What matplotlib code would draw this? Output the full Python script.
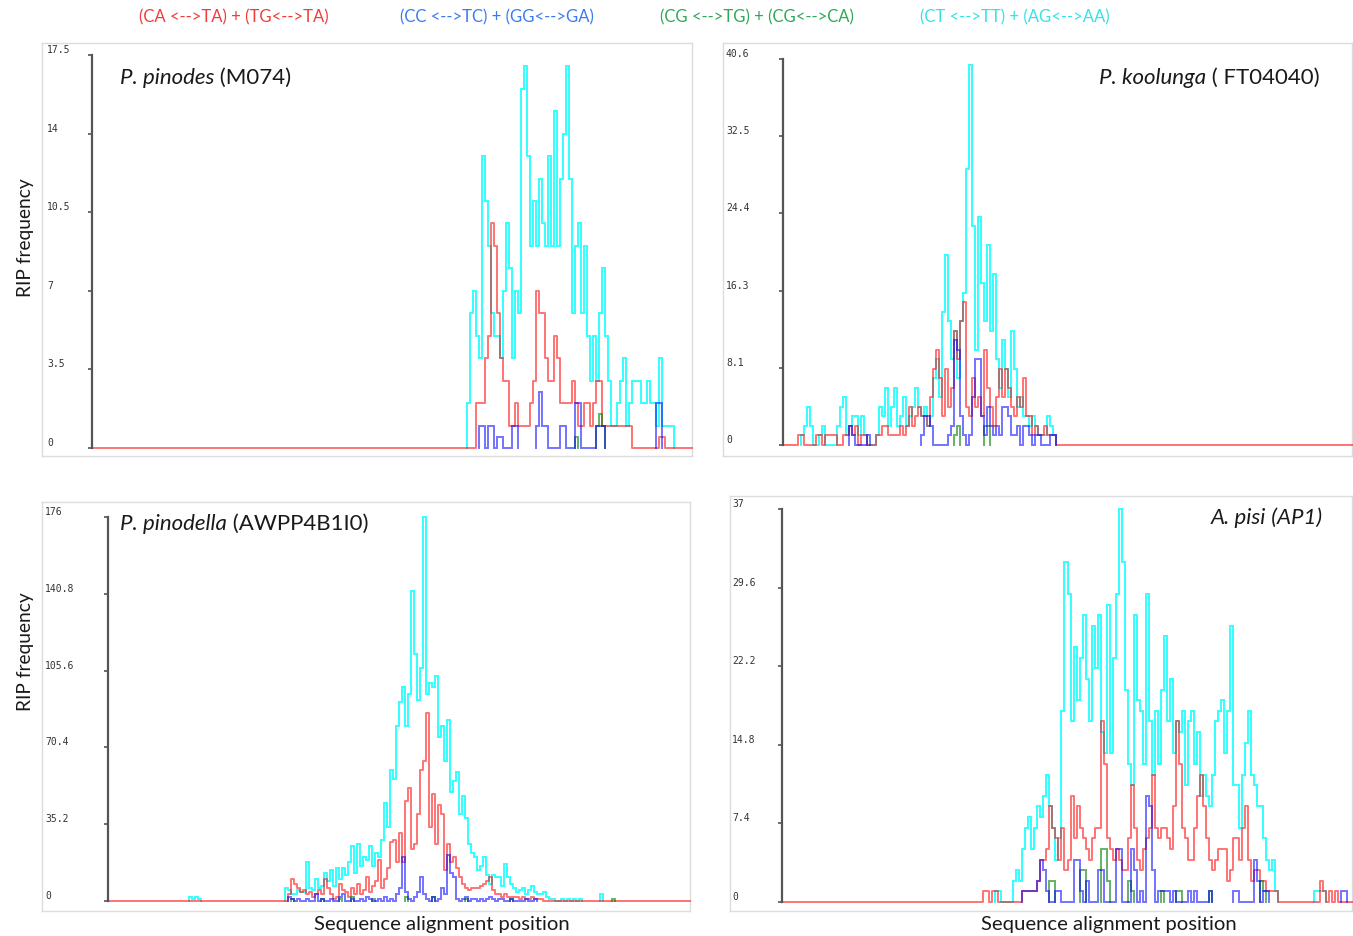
import numpy as np
import matplotlib
matplotlib.use("Agg")
import matplotlib.pyplot as plt
from matplotlib.transforms import blended_transform_factory, ScaledTranslation

W, H = 1353, 937

# --- substitution classes -------------------------------------------------
legend_labels = ["(CA <-->TA) + (TG<-->TA)", "(CC <-->TC) + (GG<-->GA)",
                 "(CG <-->TG) + (CG<-->CA)", "(CT <-->TT) + (AG<-->AA)"]

# --- P. pinodes (M074): windows 125.. of 200 -------------------------------
p1_windows, p1_start = 200, 125
p1_ticks = ["0", "3.5", "7", "10.5", "14", "17.5"]
p1_cyan = [2, 6, 7, 5, 4, 13, 11, 9, 6, 5, 5, 4, 7, 10, 8, 4, 7, 6, 16, 17,
           13, 9, 11, 9, 12, 10, 9, 13, 9, 15, 9, 12, 14, 17, 12, 6, 9, 10, 6, 9,
           5, 3, 5, 3, 6, 8, 5, 3, 1, 1, 2, 3, 4, 1, 2, 3, 3, 3, 2, 2,
           3, 2, 2, 1, 4, 1, 1, 1, 1, 0]
p1_red = [0, 0, 0, 2, 2, 2, 4, 5, 10, 9, 6, 4, 3, 3, 1, 1, 2, 1, 1, 1,
          1, 2, 3, 7, 6, 6, 4, 3, 3, 5, 4, 2, 2, 2, 2, 3, 2, 1, 1, 2,
          2, 1, 2, 3, 3, 1, 1, 1, 1, 1, 1, 1, 1, 1, 1, 0, 0, 0, 0, 0,
          0, 0, 0, 0, 0.5, 0.5, 0, 0, 0, 0]
p1_blue = [0, 0, 0, 0, 1, 1, 0, 1, 1, 0, 0.5, 0.5, 0, 0, 0, 1, 1, 0, 0, 0,
           0, 0, 0, 1, 2.5, 1, 1, 0, 0, 0, 0, 1, 1, 0, 0, 0, 2, 2, 0, 0,
           0, 0, 0, 1, 1, 1, 0, 0, 0, 0, 0, 0, 0, 0, 0, 0, 0, 0, 0, 0,
           0, 0, 0, 2, 2, 0, 0, 0, 0, 0]
p1_green = {36: 0.5, 43: 1, 44: 1.5, 45: 1}

# --- P. koolunga (FT04040): windows 5.. of 190 -----------------------------
p2_windows, p2_start = 190, 5
p2_ticks = ["0", "8.1", "16.3", "24.4", "32.5", "40.6"]
p2_cyan = [0, 1, 2, 4, 2, 0, 0, 1, 2, 0, 0, 0, 0, 2, 4, 5, 1, 2, 3, 3,
           1, 3, 1, 0, 0, 0, 1, 4, 3, 6, 2, 4, 6, 2, 3, 5, 2, 3, 4, 6,
           4, 3, 4, 2, 3, 7, 9, 5, 14, 20, 13, 9, 12, 7, 13, 16, 29, 40, 23, 10,
           24, 17, 13, 21, 12, 18, 9, 6, 11, 8, 5, 12, 8, 4, 5, 3, 3, 2, 3, 2,
           1, 1, 1, 3, 2, 1]
p2_red = [1, 1, 0, 0, 0, 0, 1, 1, 0, 1, 1, 1, 1, 0, 0, 1, 1, 2, 1, 2,
          0, 1, 1, 0, 0, 0, 1, 1, 2, 2, 1, 1, 1, 1, 2, 1, 2, 4, 2, 3,
          4, 3, 3, 2, 5, 8, 10, 7, 3, 8, 4, 6, 12, 9, 13, 15, 4, 3, 7, 4,
          5, 3, 10, 6, 4, 2, 5, 8, 5, 8, 6, 4, 3, 5, 4, 7, 3, 3, 1, 2,
          1, 1, 2, 1, 1, 1]
p2_blue = [0, 0, 0, 0, 0, 0, 0, 0, 0, 0, 0, 0, 0, 0, 0, 0, 0, 2, 1, 0,
           0, 0, 0, 1, 0, 0, 0, 0, 0, 0, 0, 0, 0, 0, 0, 0, 0, 0, 0, 0,
           0, 1, 3, 3, 2, 0, 0, 0, 0, 0, 1, 2, 11, 10, 3, 1, 0, 1, 5, 9,
           9, 3, 1, 4, 2, 1, 2, 1, 4, 4, 3, 1, 1, 2, 0, 2, 2, 1, 0, 1,
           1, 0, 0, 0, 1, 1]
p2_green = {52: 1, 53: 2, 62: 2, 63: 2}

# --- P. pinodella (AWPP4B1I0): windows 59.. of 194 ------------------------
p3_windows, p3_start = 194, 59
p3_ticks = ["0", "35.2", "70.4", "105.6", "140.8", "176"]
p3_cyan = [6, 5, 3, 3, 5, 4, 4, 18, 6, 5, 10, 6, 7, 13, 9, 14, 7, 15, 10, 15,
           12, 18, 25, 13, 26, 16, 20, 19, 25, 16, 22, 20, 28, 45, 34, 60, 56, 80, 91, 98,
           80, 95, 142, 113, 92, 107, 176, 95, 100, 98, 103, 75, 80, 64, 83, 50, 55, 59, 40, 48,
           38, 26, 22, 20, 14, 16, 20, 12, 8, 12, 11, 11, 7, 17, 11, 8, 6, 4, 5, 6,
           3, 5, 7, 4, 3, 3, 4, 2, 1, 1, 0, 0, 1, 0, 1, 0, 1, 0, 1, 0,
           0, 0, 0, 0, 0, 3]
p3_cyan_extra = {-32: 2, -31: 1, -30: 2, -29: 1}
p3_red = [0, 3, 10, 8, 6, 4, 5, 3, 4, 2, 3, 5, 3, 10, 6, 3, 1, 2, 8, 5,
          4, 2, 6, 3, 8, 3, 5, 11, 4, 7, 9, 19, 6, 10, 15, 27, 28, 18, 31, 18,
          46, 52, 24, 26, 40, 60, 64, 86, 34, 49, 26, 44, 40, 14, 26, 18, 20, 15, 11, 8,
          6, 5, 6, 6, 6, 7, 8, 9, 11, 5, 3, 3, 2, 3, 2, 2, 2, 2, 1, 2,
          1, 1, 2, 1, 1, 1, 0]
p3_blue = [0, 2, 1, 0, 1, 0, 0, 1, 0, 0, 3, 0, 1, 0, 0, 1, 0, 0, 2, 3,
           0, 0, 1, 0, 0, 1, 0, 2, 1, 0, 0, 1, 0, 2, 0, 1, 0, 3, 6, 20,
           4, 1, 0, 2, 4, 11, 3, 1, 0, 2, 0, 1, 6, 3, 21, 13, 11, 1, 0, 1,
           2, 0, 1, 1, 0, 1, 0, 1, 2, 1, 0, 1, 1, 0, 0, 1, 0, 0, 0, 0,
           1, 0, 0, 1, 0]
p3_green = {2: 1, 12: 1, 18: 1, 22: 2, 29: 1, 40: 2, 49: 2, 60: 1, 75: 1, 109: 1}

# --- A. pisi (AP1): windows 78.. of 190 ------------------------------------
p4_windows, p4_start = 190, 78
p4_ticks = ["0", "7.4", "14.8", "22.2", "29.6", "37"]
p4_cyan = [3, 2, 5, 7, 8, 5, 7, 9, 8, 10, 12, 9, 7, 4, 6, 18, 32, 29, 17, 24,
           19, 23, 27, 21, 17, 26, 22, 27, 16, 14, 28, 14, 23, 29, 37, 32, 20, 13, 11, 27,
           19, 18, 13, 29, 17, 12, 18, 13, 20, 25, 17, 21, 14, 17, 16, 18, 11, 17, 18, 13,
           16, 10, 12, 10, 9, 12, 17, 18, 19, 14, 18, 26, 11, 11, 7, 12, 15, 18, 12, 11,
           9, 9, 6, 4, 3, 4, 1, 0]
p4_cyan_extra = {-7: 1, -6: 1, -1: 2, 99: 1, 100: 1, 101: 1, 102: 1}
p4_red = [0, 0, 1, 1, 1, 1, 1, 2, 4, 4, 5, 9, 7, 6, 4, 7, 3, 4, 10, 6,
          9, 7, 6, 5, 4, 6, 7, 7, 17, 13, 6, 5, 4, 5, 4, 3, 3, 6, 11, 7,
          4, 3, 5, 6, 7, 12, 7, 6, 7, 7, 6, 5, 9, 17, 13, 7, 6, 4, 4, 7,
          10, 12, 9, 6, 4, 3, 4, 5, 5, 5, 2, 3, 6, 6, 4, 7, 9, 4, 2, 3,
          3, 2, 2, 1, 1, 1, 1, 0]
p4_red_extra = {-11: 1, -10: 1, -8: 1, -7: 1, 101: 2, 102: 1, 104: 1, 106: 1}
p4_blue = [0, 0, 1, 1, 1, 1, 1, 2, 4, 3, 1, 0, 0, 1, 1, 0, 0, 0, 0, 4,
           4, 1, 0, 2, 0, 0, 0, 3, 3, 0, 0, 0, 0, 5, 5, 0, 0, 0, 5, 3,
           0, 1, 0, 10, 9, 3, 0, 1, 1, 1, 1, 0, 1, 0, 0, 0, 0, 1, 0, 1,
           0, 0, 0, 0, 1, 0, 0, 0, 0, 0, 0, 0, 1, 1, 0, 0, 0, 0, 0, 4,
           2, 0, 1, 1, 0]
p4_blue_extra = {108: 1, 109: 1}
p4_green = {11: 2, 12: 2, 21: 3, 22: 3, 28: 5, 29: 5, 30: 2, 37: 2, 38: 1,
            48: 1, 53: 1, 54: 1, 64: 1, 81: 2, 82: 1}

RED, BLUE, GREEN, CYAN = "#ff0000", "#0000ff", "#008000", "#00ffff"
TEXT_COLORS = ["#f23c3c", "#3a7cf0", "#2fa85a", "#33e3e6"]
LW = 1.4


def series(n, start, dense=None, sparse=None):
    y = np.zeros(n)
    if dense is not None:
        y[start:start + len(dense)] = dense
    if sparse:
        for k, v in sparse.items():
            y[start + k] = v
    return y


def draw_runs(ax, y, color, alpha, gap=6):
    # draw a step trace only around its non-zero stretches
    nz = np.flatnonzero(y)
    if len(nz) == 0:
        return
    cut = np.where(np.diff(nz) > gap)[0]
    starts = np.r_[nz[0], nz[cut + 1]]
    ends = np.r_[nz[cut], nz[-1]]
    for s, e in zip(starts, ends):
        xs = np.r_[s, np.arange(s, e + 2)]
        ys = np.r_[0, y[s:e + 1], 0]
        ax.step(xs, ys, where="post", color=color, alpha=alpha, lw=LW,
                clip_on=False, solid_joinstyle="miter")


def fig_rect(x0, y0, x1, y1):
    return [x0 / W, 1 - y1 / H, (x1 - x0) / W, (y1 - y0) / H]


fig = plt.figure(figsize=(W / 100, H / 100), dpi=100)
renderer = fig.canvas.get_renderer()

panels = [
    dict(frame=(42, 44, 692, 457), plot=(92, 56, 692, 449), lab_x=47,
         n=p1_windows, start=p1_start, ticks=p1_ticks,
         cyan=(p1_cyan, None), red=(p1_red, None), blue=(p1_blue, None), green=p1_green),
    dict(frame=(723, 44, 1352, 457), plot=(783, 60, 1353, 446), lab_x=726,
         n=p2_windows, start=p2_start, ticks=p2_ticks,
         cyan=(p2_cyan, None), red=(p2_red, None), blue=(p2_blue, None), green=p2_green),
    dict(frame=(42, 503, 690, 912), plot=(108, 518, 690, 902), lab_x=45,
         n=p3_windows, start=p3_start, ticks=p3_ticks,
         cyan=(p3_cyan, p3_cyan_extra), red=(p3_red, None), blue=(p3_blue, None), green=p3_green),
    dict(frame=(730, 497, 1352, 912), plot=(782, 510, 1353, 903), lab_x=732,
         n=p4_windows, start=p4_start, ticks=p4_ticks,
         cyan=(p4_cyan, p4_cyan_extra), red=(p4_red, p4_red_extra),
         blue=(p4_blue, p4_blue_extra), green=p4_green),
]

for p in panels:
    frame = fig.add_axes(fig_rect(*p["frame"]))
    frame.set_xticks([])
    frame.set_yticks([])
    for s in frame.spines.values():
        s.set_color("#dcdcdc")
        s.set_linewidth(1.0)
    frame.patch.set_alpha(0)

    ax = fig.add_axes(fig_rect(*p["plot"]))
    ax.patch.set_alpha(0)
    n, start = p["n"], p["start"]
    top = float(p["ticks"][-1])
    ax.set_xlim(0, n)
    ax.set_ylim(0, top)
    for side in ("top", "right", "bottom"):
        ax.spines[side].set_visible(False)
    ax.spines["left"].set_color("#555555")
    ax.spines["left"].set_linewidth(1.6)
    ax.set_xticks([])
    tick_pos = np.linspace(0, top, len(p["ticks"]))
    ax.set_yticks(tick_pos)
    ax.set_yticklabels([])
    ax.tick_params(axis="y", length=3, width=1.2, color="#555555", direction="out")

    trans = blended_transform_factory(fig.transFigure, ax.transData) + \
        ScaledTranslation(0, 6 / 100, fig.dpi_scale_trans)
    for v, lab in zip(tick_pos, p["ticks"]):
        ax.text(p["lab_x"] / W, v, lab, transform=trans, ha="left", va="center",
                fontsize=7, family="DejaVu Sans Mono", color="#333333")

    cyan = series(n, start, *p["cyan"])
    red = series(n, start, *p["red"])
    blue = series(n, start, *p["blue"])
    green = series(n, start, None, p["green"])

    draw_runs(ax, cyan, CYAN, 0.8)
    ax.step(np.arange(n + 1), np.r_[red, 0], where="post", color=RED,
            alpha=0.55, lw=LW, clip_on=False)
    draw_runs(ax, green, GREEN, 0.6, gap=2)
    draw_runs(ax, blue, BLUE, 0.55)

# legend row
legend_x = [234, 497, 757, 1015]
for x, lab, c in zip(legend_x, legend_labels, TEXT_COLORS):
    fig.text(x / W, 1 - 17 / H, lab, ha="center", va="center", color=c,
             fontsize=12, family="Lato")


def species(x, y, italic, rest, align="left", rest_italic=False, size=16):
    kw = dict(va="center", fontsize=size, family="Lato", color="#1a1a1a")
    if align == "left":
        t = fig.text(x / W, 1 - y / H, italic, ha="left", style="italic", **kw)
        bb = t.get_window_extent(renderer)
        fig.text(bb.x1 / W, 1 - y / H, rest, ha="left",
                 style="italic" if rest_italic else "normal", **kw)
    else:
        t = fig.text(x / W, 1 - y / H, rest, ha="right",
                     style="italic" if rest_italic else "normal", **kw)
        bb = t.get_window_extent(renderer)
        fig.text(bb.x0 / W, 1 - y / H, italic, ha="right", style="italic", **kw)


species(120, 78, "P. pinodes", " (M074)")
species(1320, 78, "P. koolunga", " ( FT04040)", align="right")
species(120, 524, "P. pinodella", " (AWPP4B1I0)")
species(1322, 518, "A. pisi", " (AP1)", align="right", rest_italic=True)

for yc in (238, 652):
    fig.text(25 / W, 1 - yc / H, "RIP frequency", rotation=90, ha="center",
             va="center", fontsize=13.8, family="Lato", color="#1a1a1a")
for xc in (442, 1109):
    fig.text(xc / W, 1 - 925 / H, "Sequence alignment position", ha="center",
             va="center", fontsize=14.6, family="Lato", color="#1a1a1a")

fig.savefig("out.png", dpi=100)
